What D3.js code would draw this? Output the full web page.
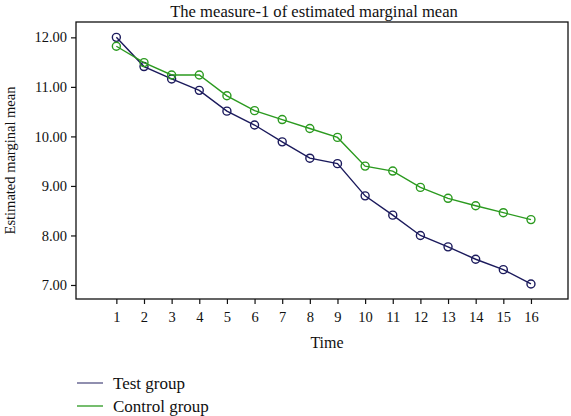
<!DOCTYPE html>
<html><head><meta charset="utf-8">
<script src="https://cdn.jsdelivr.net/npm/d3@7"></script>
<style>body{margin:0;background:#fff}svg{display:block}text{font-family:"Liberation Serif","Times New Roman",serif;fill:#111}</style>
</head><body>
<svg id="c" width="571" height="416"></svg>
<script>
const times = [1,2,3,4,5,6,7,8,9,10,11,12,13,14,15,16];
const testGroup = [12.00,11.41,11.16,10.93,10.51,10.23,9.89,9.56,9.45,8.80,8.41,8.00,7.77,7.52,7.31,7.02];
const controlGroup = [11.82,11.49,11.24,11.24,10.82,10.52,10.34,10.16,9.98,9.40,9.30,8.97,8.75,8.60,8.46,8.32];
const yTicks = [7,8,9,10,11,12];
const seriesNames = ["Test group","Control group"];
const colors = ["#1b1a5c","#2b9a1f"];
const title = "The measure-1 of estimated marginal mean";
const xTitle = "Time";
const yTitle = "Estimated marginal mean";

const svg = d3.select("#c");
const L=76, R=568, T=22, B=299;
const x = d3.scaleLinear().domain([-0.46,17.34]).range([L,R]);
const y = d3.scaleLinear().domain([6.717,12.31]).range([B,T]);

svg.append("text").attr("x",314).attr("y",17).attr("text-anchor","middle").style("font-size","16.6px").text(title);

svg.append("rect").attr("x",L).attr("y",T).attr("width",R-L).attr("height",B-T).attr("fill","none").attr("stroke","#111").attr("stroke-width",1.3);

const ya = svg.append("g").attr("transform",`translate(${L},0)`)
  .call(d3.axisLeft(y).tickValues(yTicks).tickFormat(d3.format(".2f")).tickSize(5).tickPadding(4));
const xa = svg.append("g").attr("transform",`translate(0,${B})`)
  .call(d3.axisBottom(x).tickValues(times).tickFormat(d3.format("d")).tickSize(5).tickPadding(8));
[ya,xa].forEach(g=>{
  g.select(".domain").remove();
  g.selectAll("line").attr("stroke","#111").attr("stroke-width",1.2);
  g.selectAll("text").style("font-size","14.5px").style("font-family","'Liberation Serif',serif").attr("fill","#111");
});

svg.append("text").attr("x",327).attr("y",348).attr("text-anchor","middle").style("font-size","16px").text(xTitle);
svg.append("text").attr("transform",`translate(15,${(T+B)/2}) rotate(-90)`).attr("text-anchor","middle").style("font-size","14.5px").text(yTitle);

const series = [testGroup, controlGroup];
const line = d3.line().x((d,i)=>x(times[i])).y(d=>y(d));
series.forEach((s,k)=>{
  svg.append("path").datum(s).attr("d",line).attr("fill","none").attr("stroke",colors[k]).attr("stroke-width",1.4);
  svg.selectAll(null).data(s).enter().append("circle")
    .attr("cx",(d,i)=>x(times[i])).attr("cy",d=>y(d)).attr("r",4)
    .attr("fill","none").attr("stroke",colors[k]).attr("stroke-width",1.4);
});

const legY = [383, 406];
seriesNames.forEach((n,k)=>{
  svg.append("line").attr("x1",77).attr("x2",103).attr("y1",legY[k]).attr("y2",legY[k])
    .attr("stroke",colors[k]).attr("stroke-width",1.3).attr("opacity",k===0?0.75:1);
  svg.append("text").attr("x",113).attr("y",legY[k]).attr("dy","0.33em").style("font-size","17px").text(n);
});
</script>
</body></html>
